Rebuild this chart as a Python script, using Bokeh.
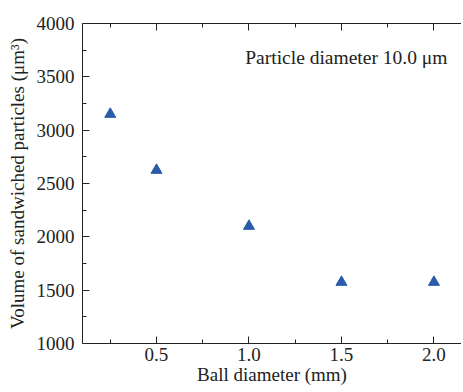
from bokeh.plotting import figure
from bokeh.models import LinearAxis, Range1d, Label, FixedTicker, NumeralTickFormatter
from bokeh.embed import file_html
from bokeh.resources import INLINE

ball_diameter = [0.25, 0.5, 1.0, 1.5, 2.0]
volume = [3150, 2625, 2100, 1575, 1575]
x_ticks = [0.5, 1.0, 1.5, 2.0]
x_minor = [0.25, 0.75, 1.25, 1.75]
y_ticks = [1000, 1500, 2000, 2500, 3000, 3500, 4000]
y_minor = [1250, 1750, 2250, 2750, 3250, 3750]

FONT = "'Liberation Serif', 'Times New Roman', serif"

p = figure(width=461, height=390, output_backend="svg", toolbar_location=None,
           x_range=Range1d(0.1, 2.149), y_range=Range1d(1000, 4000),
           min_border_left=82, min_border_top=23, min_border_bottom=47, min_border_right=0)
p.outline_line_color = None
p.grid.visible = False
p.background_fill_color = "white"
p.border_fill_color = "white"

p.scatter(ball_diameter, volume, marker="triangle", size=11,
          fill_color="#2a5caa", line_color="#2a5caa")

def style(ax):
    ax.axis_line_color = "#222222"
    ax.axis_line_width = 1
    ax.major_tick_line_color = "#222222"
    ax.minor_tick_line_color = "#222222"
    ax.major_tick_in = 7
    ax.major_tick_out = 0
    ax.minor_tick_in = 4
    ax.minor_tick_out = 0
    ax.major_label_text_font = FONT
    ax.major_label_text_color = "#222222"
    ax.major_label_text_font_size = "19px"
    ax.axis_label_text_font = FONT
    ax.axis_label_text_font_size = "19px"
    ax.axis_label_text_font_style = "normal"
    ax.axis_label_text_color = "#222222"

xa = p.xaxis[0]
xa.ticker = FixedTicker(ticks=x_ticks, minor_ticks=x_minor)
xa.formatter = NumeralTickFormatter(format="0.0")
xa.axis_label = "Ball diameter (mm)"
style(xa)
xa.major_label_standoff = 4
xa.axis_label_standoff = 0

ya = p.yaxis[0]
ya.ticker = FixedTicker(ticks=y_ticks, minor_ticks=y_minor)
ya.axis_label = "Volume of sandwiched particles (\u03bcm\u00b3)"
style(ya)
ya.major_label_standoff = 8
ya.axis_label_standoff = 6

top = LinearAxis(ticker=FixedTicker(ticks=x_ticks, minor_ticks=x_minor))
style(top)
top.major_label_overrides = {t: "" for t in x_ticks}
top.major_label_standoff = 0
p.add_layout(top, "above")

lab = Label(x=0.98, y=3681, text="Particle diameter 10.0 \u03bcm",
            text_font=FONT, text_font_size="19.5px", text_color="#222222",
            text_baseline="alphabetic", text_align="left")
p.add_layout(lab)

open("out.html", "w").write(file_html(p, INLINE))
